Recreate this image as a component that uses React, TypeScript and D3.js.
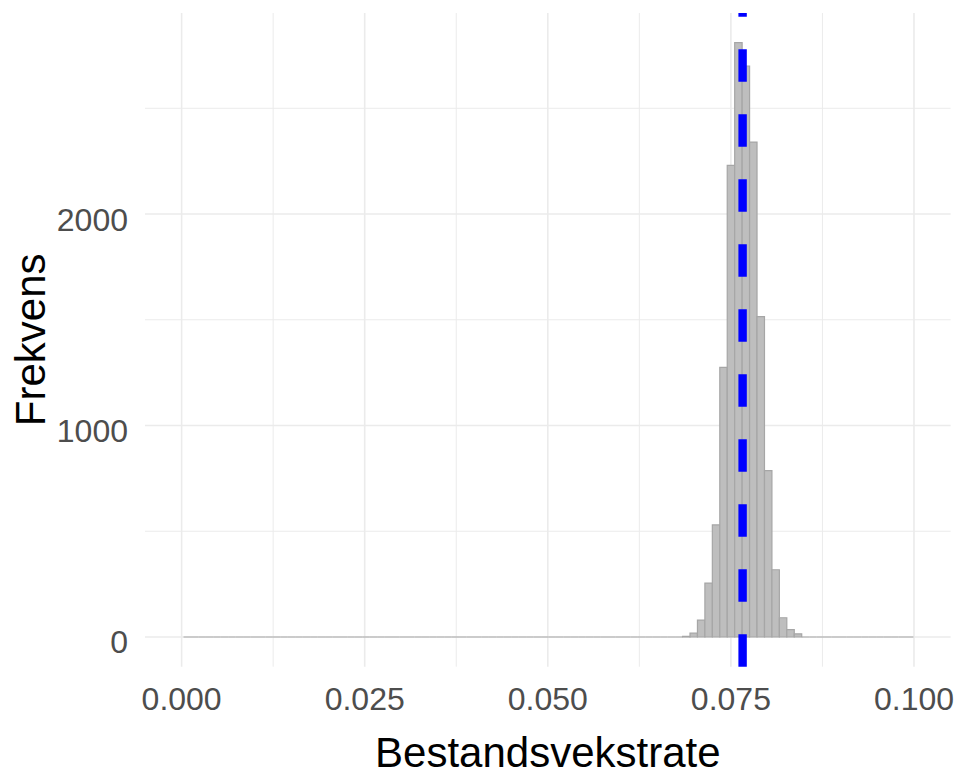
import React, { useEffect, useRef } from 'react';
import * as d3 from 'd3';

// histogram bins: 98 equal bins along the x range
const binStart = 0.00026;
const binWidth = 0.001017;
const binCount = 98;
// counts of the non-empty bins, starting at bin index 67
const firstFilledBin = 67;
const filledCounts = [3, 18, 80, 255, 530, 1275, 2230, 2810, 2700, 2340, 1515, 787, 318, 91, 35, 15];
const meanRate = 0.0766;

const xTicks = [0, 0.025, 0.05, 0.075, 0.1];
const xMinorTicks = [0.0125, 0.0375, 0.0625, 0.0875];
const yTicks = [0, 1000, 2000];
const yMinorTicks = [500, 1500, 2500];

const xTitle = 'Bestandsvekstrate';
const yTitle = 'Frekvens';

const App = () => {
    const svgRef = useRef<SVGSVGElement>(null);

    useEffect(() => {
        const width = 960;
        const height = 776;
        const panel = { left: 145, right: 950.6, top: 13, bottom: 666.7 };
        const font = '"Liberation Sans", Arial, sans-serif';

        const bins = d3.range(binCount).map(i => ({
            x0: binStart + i * binWidth,
            x1: binStart + (i + 1) * binWidth,
            count: i >= firstFilledBin && i < firstFilledBin + filledCounts.length
                ? filledCounts[i - firstFilledBin] : 0
        }));

        const maxCount = d3.max(filledCounts) as number;
        const x = d3.scaleLinear().domain([-0.005, 0.105]).range([panel.left, panel.right]);
        const y = d3.scaleLinear()
            .domain([-maxCount * 0.05, maxCount * 1.05])
            .range([panel.bottom, panel.top]);

        const svg = d3.select(svgRef.current)
            .attr('width', width)
            .attr('height', height)
            .style('background', '#fff');

        svg.selectAll('*').remove();

        // grid
        const grid = svg.append('g');
        grid.selectAll('.vminor').data(xMinorTicks).enter().append('line')
            .attr('x1', d => x(d)).attr('x2', d => x(d))
            .attr('y1', panel.top).attr('y2', panel.bottom)
            .attr('stroke', '#ebebeb').attr('stroke-width', 1);
        grid.selectAll('.hminor').data(yMinorTicks).enter().append('line')
            .attr('x1', panel.left).attr('x2', panel.right)
            .attr('y1', d => y(d)).attr('y2', d => y(d))
            .attr('stroke', '#ebebeb').attr('stroke-width', 1);
        grid.selectAll('.vmajor').data(xTicks).enter().append('line')
            .attr('x1', d => x(d)).attr('x2', d => x(d))
            .attr('y1', panel.top).attr('y2', panel.bottom)
            .attr('stroke', '#ebebeb').attr('stroke-width', 1.6);
        grid.selectAll('.hmajor').data(yTicks).enter().append('line')
            .attr('x1', panel.left).attr('x2', panel.right)
            .attr('y1', d => y(d)).attr('y2', d => y(d))
            .attr('stroke', '#ebebeb').attr('stroke-width', 1.6);

        // bars as paths so empty bins still draw their outline along the baseline
        svg.append('g').selectAll('path').data(bins).enter().append('path')
            .attr('d', d => {
                const p = d3.path();
                p.moveTo(x(d.x0), y(0));
                p.lineTo(x(d.x0), y(d.count));
                p.lineTo(x(d.x1), y(d.count));
                p.lineTo(x(d.x1), y(0));
                p.closePath();
                return p.toString();
            })
            .attr('fill', '#bebebe')
            .attr('stroke', '#a6a6a6')
            .attr('stroke-width', 1.2);

        // mean line, dashes counted from the bottom like ggplot
        svg.append('line')
            .attr('x1', x(meanRate)).attr('x2', x(meanRate))
            .attr('y1', panel.bottom).attr('y2', panel.top)
            .attr('stroke', '#0000ff')
            .attr('stroke-width', 8.4)
            .attr('stroke-dasharray', '32.5 32.5');

        // tick labels
        svg.append('g').selectAll('text').data(xTicks).enter().append('text')
            .attr('x', d => x(d))
            .attr('y', 710)
            .attr('text-anchor', 'middle')
            .attr('font-family', font)
            .attr('font-size', 32)
            .attr('fill', '#4d4d4d')
            .text(d => d3.format('.3f')(d));

        svg.append('g').selectAll('text').data(yTicks).enter().append('text')
            .attr('x', 128)
            .attr('y', d => y(d) + 16.5)
            .attr('text-anchor', 'end')
            .attr('font-family', font)
            .attr('font-size', 32)
            .attr('fill', '#4d4d4d')
            .text(d => d3.format('d')(d));

        // axis titles
        svg.append('text')
            .attr('x', (panel.left + panel.right) / 2)
            .attr('y', 767)
            .attr('text-anchor', 'middle')
            .attr('font-family', font)
            .attr('font-size', 42)
            .attr('fill', '#000')
            .text(xTitle);

        svg.append('text')
            .attr('transform', `translate(45, ${(panel.top + panel.bottom) / 2}) rotate(-90)`)
            .attr('text-anchor', 'middle')
            .attr('font-family', font)
            .attr('font-size', 42)
            .attr('fill', '#000')
            .text(yTitle);
    }, []);

    return (
        <svg ref={svgRef} style={{ position: 'absolute', left: 0, top: 0, display: 'block' }}></svg>
    );
};

export default App;
